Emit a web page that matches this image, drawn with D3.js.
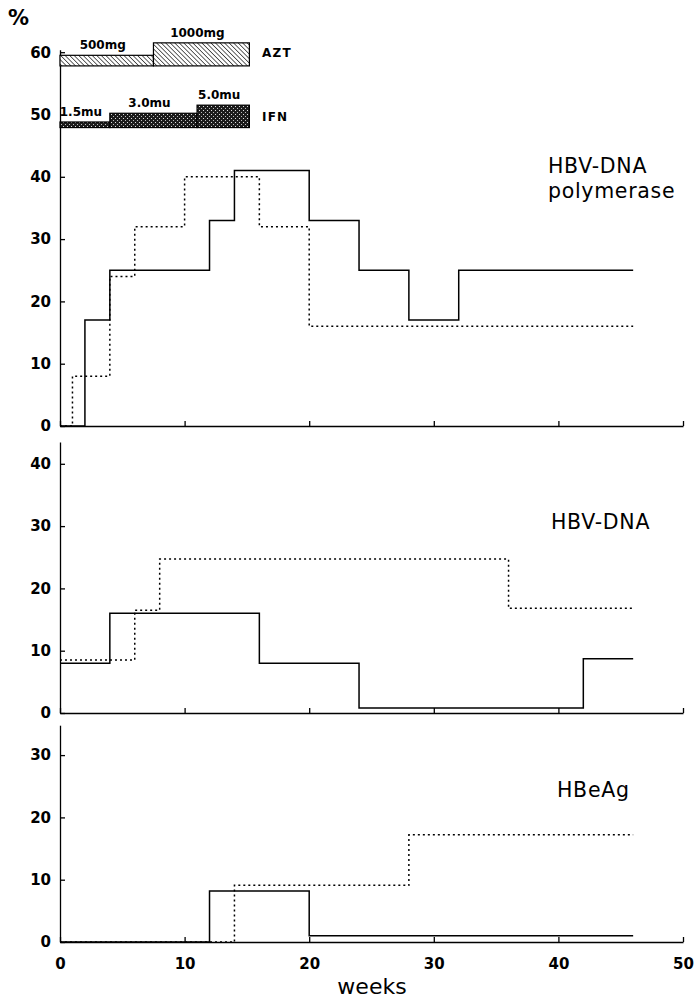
<!DOCTYPE html>
<html>
<head>
<meta charset="utf-8">
<script src="https://cdn.jsdelivr.net/npm/d3@7"></script>
<style>
body { margin: 0; background: #fff; }
</style>
</head>
<body>
<div id="chart"></div>
<script>
// step lines: each week starts a new level, the last week is where the line stops
var polySolidWeeks = [0, 2, 4, 12, 14, 20, 24, 28, 32, 46];
var polySolidValues = [0, 17, 25, 33, 41, 33, 25, 17, 25];
var polyDottedWeeks = [0, 1, 4, 6, 10, 16, 20, 46];
var polyDottedValues = [0, 8, 24, 32, 40, 32, 16];

var dnaSolidWeeks = [0, 4, 16, 24, 42, 46];
var dnaSolidValues = [8, 16, 8, 0.8, 8.7];
var dnaDottedWeeks = [0, 6, 8, 36, 46];
var dnaDottedValues = [8.5, 16.5, 24.7, 16.8];

var hbeSolidWeeks = [0, 12, 20, 46];
var hbeSolidValues = [0, 8.2, 1];
var hbeDottedWeeks = [0, 14, 28, 46];
var hbeDottedValues = [0, 9.1, 17.2];

// treatment schedule drawn above the first panel (levels in % units of that panel)
var aztLabels = ["500mg", "1000mg"];
var aztStart = [0, 7.5];
var aztEnd = [7.5, 15.2];
var aztTop = [59.5, 61.5];
var aztBase = 57.8;

var ifnLabels = ["1.5mu", "3.0mu", "5.0mu"];
var ifnStart = [0, 4, 11];
var ifnEnd = [4, 11, 15.2];
var ifnTop = [48.8, 50.2, 51.5];
var ifnBase = 47.9;

var weekTicks = [0, 10, 20, 30, 40, 50];

function stepPoints(weeks, values) {
    return weeks.map(function (wk, i) {
        return [wk, values[Math.min(i, values.length - 1)]];
    });
}

function init() {
    var w = 697;
    var h = 999;
    var unit = 6.23; // pixels per percent, same in every panel

    var svg = d3.select("#chart")
        .append("svg")
        .attr("width", w)
        .attr("height", h)
        .style("font-family", "'DejaVu Sans', sans-serif");

    var defs = svg.append("defs");
    // diagonal hatch for AZT
    var hatch = defs.append("pattern")
        .attr("id", "hatch")
        .attr("patternUnits", "userSpaceOnUse")
        .attr("width", 3.2)
        .attr("height", 3.2)
        .attr("patternTransform", "rotate(-45)");
    hatch.append("rect").attr("width", 3.2).attr("height", 3.2).attr("fill", "#fff");
    hatch.append("line").attr("x1", 0).attr("y1", 0).attr("x2", 0).attr("y2", 3.2)
        .attr("stroke", "#111").attr("stroke-width", 1.3);
    // dark stipple for IFN
    var stip = defs.append("pattern")
        .attr("id", "stipple")
        .attr("patternUnits", "userSpaceOnUse")
        .attr("width", 4)
        .attr("height", 4);
    stip.append("rect").attr("width", 4).attr("height", 4).attr("fill", "#1c1c1c");
    stip.append("rect").attr("x", 1).attr("y", 0).attr("width", 1).attr("height", 1).attr("fill", "#bbb");
    stip.append("rect").attr("x", 3).attr("y", 2).attr("width", 1).attr("height", 1).attr("fill", "#ddd");

    var x = d3.scaleLinear().domain([0, 50]).range([60, 683]);

    var panels = [
        {title: ["HBV-DNA", "polymerase"], tx: 548, ty: 173, base: 426, max: 60.4,
            ticks: [0, 10, 20, 30, 40, 50, 60],
            solid: stepPoints(polySolidWeeks, polySolidValues),
            dotted: stepPoints(polyDottedWeeks, polyDottedValues)},
        {title: ["HBV-DNA"], tx: 551, ty: 529, base: 713, max: 43.5,
            ticks: [0, 10, 20, 30, 40],
            solid: stepPoints(dnaSolidWeeks, dnaSolidValues),
            dotted: stepPoints(dnaDottedWeeks, dnaDottedValues)},
        {title: ["HBeAg"], tx: 557, ty: 797, base: 942, max: 34.8,
            ticks: [0, 10, 20, 30],
            solid: stepPoints(hbeSolidWeeks, hbeSolidValues),
            dotted: stepPoints(hbeDottedWeeks, hbeDottedValues)}
    ];

    panels.forEach(function (p, pi) {
        var y = d3.scaleLinear().domain([0, p.max]).range([p.base, p.base - p.max * unit]);
        p.y = y;
        var g = svg.append("g");

        //y axis with inside ticks
        g.append("g")
            .attr("transform", "translate(" + x(0) + ",0)")
            .call(d3.axisLeft(y).tickValues(p.ticks).tickSizeInner(-5).tickSizeOuter(0).tickPadding(9));
        //x axis along zero
        g.append("g")
            .attr("transform", "translate(0," + y(0) + ")")
            .call(d3.axisBottom(x).tickValues(weekTicks).tickSizeInner(-5).tickSizeOuter(0).tickPadding(16)
                .tickFormat(pi == 2 ? d3.format("d") : ""));
        g.selectAll(".domain, .tick line").attr("stroke", "#000").attr("stroke-width", 1.3);
        g.selectAll(".tick text")
            .attr("fill", "#000")
            .style("font-family", "'DejaVu Sans', sans-serif")
            .style("font-size", "15px")
            .style("font-weight", "bold");

        var line = d3.line()
            .x(function (d) { return x(d[0]); })
            .y(function (d) { return y(d[1]); })
            .curve(d3.curveStepAfter);

        g.append("path")
            .datum(p.dotted)
            .attr("d", line)
            .attr("fill", "none")
            .attr("stroke", "#000")
            .attr("stroke-width", 1.5)
            .attr("stroke-dasharray", "2,3");
        g.append("path")
            .datum(p.solid)
            .attr("d", line)
            .attr("fill", "none")
            .attr("stroke", "#000")
            .attr("stroke-width", 1.5);

        g.selectAll(".title")
            .data(p.title)
            .enter()
            .append("text")
            .text(function (d) { return d; })
            .attr("x", p.tx)
            .attr("y", function (d, i) { return p.ty + i * 25; })
            .attr("font-size", 20.5)
            .attr("letter-spacing", 0.7)
            .attr("fill", "#000");
    });

    // treatment bars in the first panel
    var y0 = panels[0].y;
    function bars(labels, start, end, top, base, fill, name, nameY) {
        svg.selectAll(".bar-" + name)
            .data(labels)
            .enter()
            .append("rect")
            .attr("x", function (d, i) { return x(start[i]); })
            .attr("y", function (d, i) { return y0(top[i]); })
            .attr("width", function (d, i) { return x(end[i]) - x(start[i]); })
            .attr("height", function (d, i) { return y0(base) - y0(top[i]); })
            .attr("fill", fill)
            .attr("stroke", "#000")
            .attr("stroke-width", 1.2);
        svg.selectAll(".lab-" + name)
            .data(labels)
            .enter()
            .append("text")
            .text(function (d) { return d; })
            .attr("x", function (d, i) { return (x(start[i]) + x(end[i])) / 2 - 4; })
            .attr("y", function (d, i) { return y0(top[i]) - 6; })
            .attr("text-anchor", "middle")
            .attr("font-size", 12)
            .attr("font-weight", "bold");
        svg.append("text")
            .text(name)
            .attr("x", 262)
            .attr("y", nameY)
            .attr("font-size", 12)
            .attr("font-weight", "bold")
            .attr("letter-spacing", 1.2);
    }
    bars(aztLabels, aztStart, aztEnd, aztTop, aztBase, "url(#hatch)", "AZT", 57);
    bars(ifnLabels, ifnStart, ifnEnd, ifnTop, ifnBase, "url(#stipple)", "IFN", 121);

    svg.append("text")
        .text("%")
        .attr("x", 8)
        .attr("y", 25)
        .attr("font-size", 21)
        .attr("font-weight", "bold");

    svg.append("text")
        .text("weeks")
        .attr("x", 372)
        .attr("y", 994)
        .attr("text-anchor", "middle")
        .attr("font-size", 22);
}
window.onload = init;
</script>
</body>
</html>
